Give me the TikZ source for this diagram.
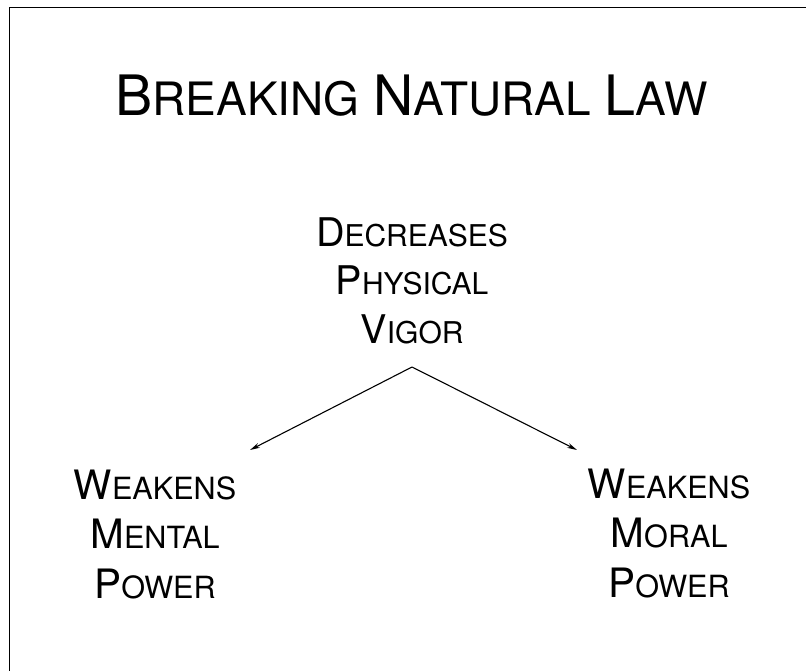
\documentclass[tikz,border=0pt]{standalone}
\usepackage{fontspec}
\setmainfont{TeX Gyre Heros}
\usetikzlibrary{arrows.meta}
\newcommand\mysc[4]{{\fontsize{#1pt}{#1pt}\selectfont #3\fontsize{#2pt}{#2pt}\selectfont #4}}
\tikzset{
  frame/.style={draw=black,line width=1.6pt},
  label3/.style={align=center,anchor=base,inner sep=0pt,font=\fontsize{40pt}{49.5pt}\selectfont},
  arrow/.style={draw=black,line width=1.1pt,-{Stealth[length=10pt,width=5pt]}}
}
\begin{document}
\begin{tikzpicture}[x=1pt,y=1pt]
\useasboundingbox (0,0) rectangle (806,-670);
\fill[white] (0,0) rectangle (806,-670);
\clip (0,0) rectangle (806,-670);
\draw[frame] (9.5,-7.5) rectangle (840,-700);
\node[anchor=base,inner sep=0pt,font=\fontsize{50pt}{50pt}\selectfont] (title) at (411.5,-115) {\mysc{55.7}{46}{B}{REAKING} \mysc{55.7}{46}{N}{ATURAL} \mysc{55.7}{46}{L}{AW}};
\node[label3,font=\fontsize{40pt}{48.5pt}\selectfont] (mid) at (412,-343) {\mysc{39.5}{30}{D}{ECREASES}\\\mysc{39.5}{30}{P}{HYSICAL}\\\mysc{39.5}{30}{V}{IGOR}};
\node[label3] (left) at (155,-598) {\mysc{40.5}{30.6}{W}{EAKENS}\\\mysc{40.5}{30.6}{M}{ENTAL}\\\mysc{40.5}{30.6}{P}{OWER}};
\node[label3] (right) at (669,-597) {\mysc{40.5}{30.6}{W}{EAKENS}\\\mysc{40.5}{30.6}{M}{ORAL}\\\mysc{40.5}{30.6}{P}{OWER}};
\coordinate (apex) at (412,-367);
\coordinate (lt) at (250,-450);
\coordinate (rt) at (577,-450);
\draw[arrow] (apex) -- (lt);
\draw[arrow] (apex) -- (rt);
\end{tikzpicture}
\end{document}
